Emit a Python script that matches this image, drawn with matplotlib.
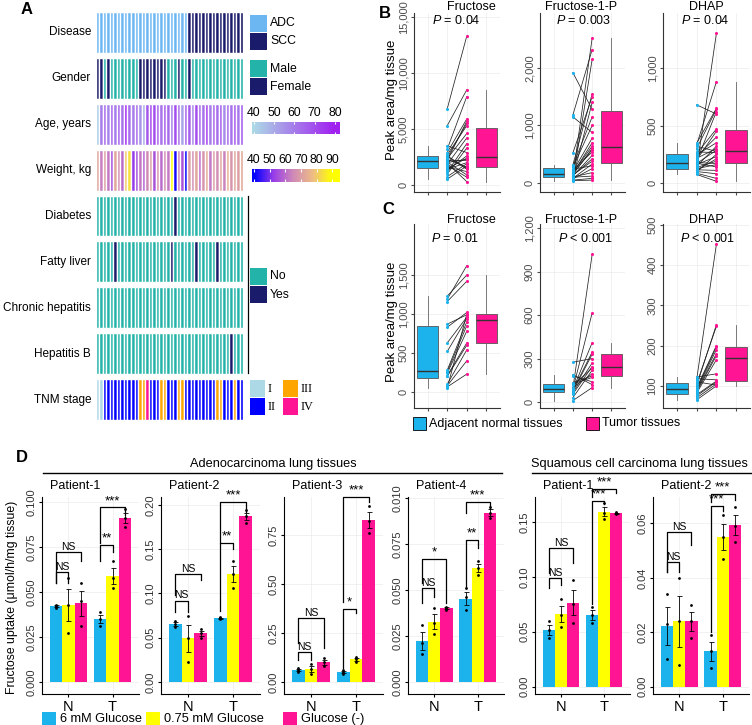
import matplotlib
matplotlib.use("Agg")
import matplotlib.pyplot as plt
import numpy as np
from matplotlib.colors import LinearSegmentedColormap, Normalize
from matplotlib.patches import Rectangle
from matplotlib.lines import Line2D
from matplotlib.ticker import FuncFormatter

plt.rcParams['font.family'] = ['Liberation Sans', 'DejaVu Sans']
plt.rcParams['mathtext.fontset'] = 'custom'
plt.rcParams['mathtext.it'] = 'Liberation Sans:italic'
plt.rcParams['mathtext.rm'] = 'Liberation Sans'

# ---------------- panel A data (one column per patient) ----------------
row_names = ["Disease", "Gender", "Age, years", "Weight, kg", "Diabetes",
             "Fatty liver", "Chronic hepatitis", "Hepatitis B", "TNM stage"]
disease = [0, 0, 0, 0, 0, 0, 0, 0, 0, 0, 0, 0, 0, 0, 0, 0, 0, 0, 0, 0, 0,
           0, 0, 0, 0, 0, 1, 1, 1, 1, 1, 1, 1, 1, 1, 1, 1, 1, 1, 1, 1, 1]
gender = [1, 1, 0, 1, 0, 0, 0, 0, 0, 0, 0, 0, 1, 1, 1, 1, 1, 1, 1, 1, 0,
          0, 0, 1, 0, 0, 1, 0, 0, 0, 0, 0, 0, 0, 0, 0, 0, 0, 0, 0, 0, 0]
age = [42, 60, 65, 58, 66, 60, 67, 62, 78, 63, 60, 65, 55, 50, 68, 72, 70, 66, 62, 68, 64,
       60, 70, 63, 52, 66, 67, 58, 70, 65, 62, 74, 60, 66, 63, 68, 57, 65, 62, 69, 61, 66]
weight = [72, 63, 70, 62, 55, 72, 66, 60, 80, 84, 52, 55, 62, 58, 65, 70, 56, 68, 60, 66, 62,
          90, 42, 64, 56, 40, 70, 66, 72, 60, 68, 74, 62, 70, 66, 72, 64, 75, 68, 72, 70, 73]
diabetes = [0, 0, 0, 0, 0, 0, 0, 0, 0, 0, 0, 0, 0, 0, 0, 0, 0, 0, 0, 0, 0,
            0, 1, 0, 0, 0, 0, 0, 0, 0, 0, 0, 0, 0, 0, 0, 0, 0, 0, 0, 0, 0]
fatty_liver = [0, 0, 0, 0, 0, 1, 0, 0, 0, 0, 0, 0, 0, 0, 0, 0, 0, 0, 0, 0, 0,
               1, 0, 0, 0, 0, 0, 0, 1, 0, 0, 0, 0, 0, 1, 0, 0, 0, 0, 0, 0, 0]
chronic_hep = [0, 0, 0, 0, 0, 0, 0, 0, 0, 0, 0, 0, 0, 0, 0, 0, 0, 0, 0, 0, 0,
               0, 0, 0, 0, 0, 0, 0, 0, 0, 0, 0, 0, 0, 0, 0, 0, 0, 0, 0, 0, 0]
hepatitis_b = [0, 0, 0, 0, 0, 0, 0, 0, 0, 0, 0, 0, 0, 0, 0, 0, 0, 0, 0, 0, 0,
               0, 0, 0, 0, 0, 0, 0, 0, 0, 0, 0, 0, 0, 0, 0, 0, 0, 1, 0, 0, 0]
tnm = [1, 1, 2, 2, 2, 2, 2, 2, 2, 2, 2, 2, 3, 3, 4, 2, 2, 2, 3, 3, 2,
       2, 2, 3, 3, 2, 2, 2, 2, 2, 2, 2, 2, 2, 3, 3, 2, 2, 2, 3, 2, 2]

# ---------------- panels B / C data (paired normal vs tumor) ----------------
met_names = ["Fructose", "Fructose-1-P", "DHAP"]
b_normal = [
    [6800, 2200, 1450, 5300, 2600, 1850, 980, 3200, 2050, 1300, 2450, 1600, 2900,
     520, 2150, 1950, 2350, 3500, 750, 2700, 1750, 2000, 1150, 2300, 1400, 2550],
    [1920, 1180, 110, 1150, 520, 60, 240, 90, 145, 40, 310, 130, 70,
     200, 105, 290, 50, 165, 80, 270, 120, 220, 100, 180, 140, 155],
    [680, 330, 120, 255, 95, 345, 145, 200, 75, 170, 300, 110, 230,
     85, 190, 320, 125, 245, 100, 215, 135, 270, 115, 160, 178, 172],
]
b_tumor = [
    [13300, 5700, 2400, 8500, 1500, 4200, 3300, 7900, 900, 2600, 5500, 1200, 5900,
     1700, 2200, 300, 4600, 2900, 1900, 5300, 700, 2300, 3700, 1600, 2000, 1400],
    [1280, 2320, 2520, 880, 1500, 2150, 300, 1400, 600, 50, 1550, 420, 250,
     780, 180, 1150, 80, 700, 330, 1000, 480, 540, 120, 640, 380, 580],
    [600, 880, 1300, 470, 250, 650, 320, 450, 15, 285, 640, 210, 400,
     40, 620, 275, 160, 350, 80, 300, 190, 265, 110, 230, 170, 140],
]
b_pvals = ["$P$ = 0.04", "$P$ = 0.003", "$P$ = 0.04"]

c_normal = [
    [1230, 1190, 1160, 870, 830, 630, 520, 280, 260, 240, 210, 200, 100, 80, 65, 50],
    [275, 190, 180, 135, 125, 115, 100, 92, 88, 85, 80, 72, 65, 55, 30, 10],
    [122, 118, 115, 110, 105, 100, 95, 92, 90, 88, 85, 82, 78, 75, 70, 65],
]
c_tumor = [
    [1500, 1620, 1420, 990, 1020, 960, 940, 900, 850, 780, 630, 600, 540, 400, 230, 1000],
    [300, 120, 140, 180, 170, 235, 195, 1020, 615, 410, 345, 330, 270, 245, 220, 100],
    [130, 115, 452, 102, 248, 252, 200, 197, 190, 180, 175, 165, 112, 110, 105, 100],
]
c_pvals = ["$P$ = 0.01", "$P$ < 0.001", "$P$ < 0.001"]

# ---------------- panel D data: replicate uptake values ----------------
# per patient: [N group, T group], each [6 mM, 0.75 mM, glucose(-)] x 3 replicates
d_titles = ["Patient-1", "Patient-2", "Patient-3", "Patient-4", "Patient-1", "Patient-2"]
d_points = [
    [[[0.041, 0.042, 0.043], [0.027, 0.043, 0.058], [0.031, 0.045, 0.055]],
     [[0.031, 0.035, 0.039], [0.052, 0.058, 0.067], [0.086, 0.091, 0.096]]],
    [[[0.062, 0.066, 0.069], [0.023, 0.050, 0.075], [0.050, 0.055, 0.060]],
     [[0.071, 0.072, 0.073], [0.106, 0.122, 0.137], [0.180, 0.187, 0.194]]],
    [[[0.050, 0.060, 0.070], [0.040, 0.065, 0.090], [0.080, 0.100, 0.125]],
     [[0.040, 0.050, 0.060], [0.100, 0.115, 0.130], [0.760, 0.820, 0.900]]],
    [[[0.015, 0.021, 0.031], [0.026, 0.032, 0.040], [0.039, 0.040, 0.041]],
     [[0.039, 0.046, 0.051], [0.058, 0.062, 0.066], [0.089, 0.092, 0.095]]],
    [[[0.044, 0.052, 0.060], [0.054, 0.065, 0.080], [0.058, 0.075, 0.097]],
     [[0.058, 0.065, 0.073], [0.153, 0.158, 0.167], [0.157, 0.158, 0.159]]],
    [[[0.010, 0.023, 0.034], [0.008, 0.024, 0.040], [0.018, 0.024, 0.030]],
     [[0.007, 0.013, 0.019], [0.047, 0.055, 0.063], [0.053, 0.059, 0.066]]],
]
# significance brackets: (group, bar a, bar b, top, leg a end, leg b end, label)
d_brackets = [
    [(0, 0, 1, 0.061, 0.055, 0.055, "NS"), (0, 0, 2, 0.072, 0.055, 0.067, "NS"),
     (1, 0, 1, 0.076, 0.067, 0.072, "**"), (1, 0, 2, 0.097, 0.077, 0.093, "***")],
    [(0, 0, 1, 0.092, 0.079, 0.079, "NS"), (0, 0, 2, 0.122, 0.098, 0.115, "NS"),
     (1, 0, 1, 0.157, 0.080, 0.150, "**"), (1, 0, 2, 0.203, 0.157, 0.192, "***")],
    [(0, 0, 1, 0.153, 0.110, 0.110, "NS"), (0, 0, 2, 0.327, 0.200, 0.175, "NS"),
     (1, 0, 1, 0.372, 0.070, 0.350, "*"), (1, 0, 2, 0.944, 0.410, 0.920, "***")],
    [(0, 0, 1, 0.051, 0.043, 0.046, "NS"), (0, 0, 2, 0.067, 0.054, 0.043, "*"),
     (1, 0, 1, 0.077, 0.051, 0.073, "**"), (1, 0, 2, 0.098, 0.092, 0.094, "***")],
    [(0, 0, 1, 0.099, 0.090, 0.093, "NS"), (0, 0, 2, 0.126, 0.104, 0.113, "NS"),
     (1, 0, 1, 0.169, 0.075, 0.166, "***"), (1, 0, 2, 0.180, 0.173, 0.176, "***")],
    [(0, 0, 1, 0.0458, 0.042, 0.042, "NS"), (0, 0, 2, 0.0568, 0.042, 0.052, "NS"),
     (1, 0, 1, 0.0664, 0.020, 0.0645, "***"), (1, 0, 2, 0.0707, 0.0678, 0.0686, "***")],
]
d_yticks = [
    [0, 0.025, 0.05, 0.075, 0.1], [0, 0.05, 0.1, 0.15, 0.2], [0, 0.25, 0.5, 0.75],
    [0, 0.025, 0.05, 0.075, 0.1], [0, 0.05, 0.1, 0.15], [0, 0.02, 0.04, 0.06],
]
d_yticklabels = [
    ["0.000", "0.025", "0.050", "0.075", "0.100"], ["0.00", "0.05", "0.10", "0.15", "0.20"],
    ["0.00", "0.25", "0.50", "0.75"], ["0.000", "0.025", "0.050", "0.075", "0.010"],
    ["0.00", "0.05", "0.10", "0.15"], ["0.00", "0.02", "0.04", "0.06"],
]
group_labels = ["N", "T"]
cond_labels = ["6 mM Glucose", "0.75 mM Glucose", "Glucose (-)"]

# ---------------- colours ----------------
ADC, SCC = "#6cb6f2", "#1b1b6b"
TEAL, NAVY = "#24b3a8", "#1b1b6b"
TNM_COLORS = {1: "#add8e6", 2: "#0000ff", 3: "#ffa500", 4: "#ff1493"}
BLUE, YELLOW, PINK = "#1cb3ec", "#ffff00", "#ff1493"
age_cmap = LinearSegmentedColormap.from_list("age", ["#add8e6", "#a020f0"])
weight_cmap = LinearSegmentedColormap.from_list(
    "wt", ["#0000ff", "#9a3ee8", "#d08ab8", "#eebc86", "#ffff00"])
age_norm = Normalize(40, 80, clip=True)
weight_norm = Normalize(40, 90, clip=True)

W, H = 752, 725
fig = plt.figure(figsize=(W / 100, H / 100), dpi=100)


def px_axes(left, top, right, bottom):
    # axes placed by pixel edges of the canvas
    return fig.add_axes([left / W, 1 - bottom / H, (right - left) / W, (bottom - top) / H])


def px_text(x, y, s, **kw):
    fig.text(x / W, 1 - y / H, s, **kw)


def px_box(x, y, w, h, color, edge="none", lw=0.0):
    fig.add_artist(Rectangle((x / W, 1 - (y + h) / H), w / W, h / H, transform=fig.transFigure,
                             facecolor=color, edgecolor=edge, linewidth=lw))


def px_line(x0, y0, x1, y1, lw=1.0):
    fig.add_artist(Line2D([x0 / W, x1 / W], [1 - y0 / H, 1 - y1 / H],
                          transform=fig.transFigure, color="black", lw=lw))


# ================= A: clinical heatmap =================
ax = px_axes(96, 12, 243, 420)
n = len(disease)
xs = np.arange(n)
yes_no = lambda v: [TEAL if k == 0 else NAVY for k in v]
row_colors = [
    [ADC if d == 0 else SCC for d in disease],
    [TEAL if g == 0 else NAVY for g in gender],
    age_cmap(age_norm(age)),
    weight_cmap(weight_norm(weight)),
    yes_no(diabetes), yes_no(fatty_liver), yes_no(chronic_hep), yes_no(hepatitis_b),
    [TNM_COLORS[s] for s in tnm],
]
for i, cols in enumerate(row_colors):
    ax.bar(xs, 0.89, bottom=i, width=1, color=cols, edgecolor="white", linewidth=1.0)
    ax.text(-1.9, i + 0.445, row_names[i], ha="right", va="center", fontsize=8.5, clip_on=False)
ax.set_xlim(-0.5, n - 0.5)
ax.set_ylim(8.89, 0)
ax.axis("off")

# legends of A
for y, c, lab in [(15, ADC, "ADC"), (33, SCC, "SCC"), (60, TEAL, "Male"), (78, NAVY, "Female"),
                  (268, TEAL, "No"), (286, NAVY, "Yes")]:
    px_box(250, y, 17, 17, c)
    px_text(270, y + 8.5, lab, va="center", fontsize=8.8)
px_line(248, 196, 248, 373, lw=0.9)
for x, y, s in [(250, 380, 1), (250, 398, 2), (283, 380, 3), (283, 398, 4)]:
    px_box(x, y, 15, 17, TNM_COLORS[s])
    px_text(x + 18, y + 8.5, ["I", "II", "III", "IV"][s - 1], va="center", fontsize=8.8,
            family="Liberation Serif")


def colorbar_px(box, cmap, norm, lo, hi, ticks):
    cax = px_axes(*box)
    grad = np.linspace(lo, hi, 256)
    cax.imshow(cmap(norm(grad))[None, :, :], extent=[lo, hi, 0, 1], aspect="auto")
    cax.vlines(ticks, 0, 0.2, color="white", lw=0.8)
    cax.vlines(ticks, 0.8, 1, color="white", lw=0.8)
    cax.set_xlim(lo, hi)
    cax.set_ylim(0, 1)
    cax.set_yticks([])
    cax.set_xticks(ticks)
    cax.xaxis.tick_top()
    cax.tick_params(axis="x", length=0, pad=2.5, labelsize=8.8)
    for sp in cax.spines.values():
        sp.set_visible(False)


colorbar_px((252, 122, 340, 134), age_cmap, age_norm, 39.1, 82.5, [40, 50, 60, 70, 80])
colorbar_px((252, 169, 340, 182), weight_cmap, weight_norm, 38.7, 95, [40, 50, 60, 70, 80, 90])

# ================= B / C: paired metabolite plots =================
comma = FuncFormatter(lambda v, p: f"{int(round(v)):,}")


def paired_panel(box, normal, tumor, ylim, yticks):
    ax = px_axes(*box)
    common = dict(widths=1.1, patch_artist=True, showfliers=False, showcaps=False,
                  whiskerprops=dict(color="#666666", lw=0.6),
                  medianprops=dict(color="#333333", lw=1.0))
    b1 = ax.boxplot([normal], positions=[1], **common)
    b2 = ax.boxplot([tumor], positions=[4], **common)
    for b, c in [(b1, BLUE), (b2, PINK)]:
        for patch in b["boxes"]:
            patch.set(facecolor=c, edgecolor="#555555", linewidth=0.6)
    for a, t in zip(normal, tumor):
        ax.plot([2, 3], [a, t], color="#222222", lw=0.55, zorder=2)
    ax.scatter(np.full(len(normal), 2), normal, s=5, color=BLUE, zorder=3, linewidths=0)
    ax.scatter(np.full(len(tumor), 3), tumor, s=5, color=PINK, zorder=3, linewidths=0)
    ax.set_xlim(0.3, 4.7)
    ax.set_ylim(*ylim)
    ax.set_xticks([1, 2, 3, 4])
    ax.set_xticklabels([])
    ax.set_yticks(yticks)
    ax.yaxis.set_major_formatter(comma)
    ax.tick_params(axis="y", labelsize=8, labelcolor="#4d4d4d", length=2.5, pad=1.5,
                   color="#4d4d4d", labelrotation=90)
    ax.tick_params(axis="x", length=2.5, color="#4d4d4d")
    for lab in ax.get_yticklabels():
        lab.set_va("center")
    ax.grid(color="#ebebeb", lw=0.5)
    ax.set_axisbelow(True)
    for sp in ["top", "right"]:
        ax.spines[sp].set_visible(False)
    for sp in ["left", "bottom"]:
        ax.spines[sp].set_color("#333333")
        ax.spines[sp].set_linewidth(0.8)
    return ax


x_boxes = [(414, 500), (540, 625), (663, 750)]
b_ylims = [(-625, 15357), (-157, 2957), (-78, 1478)]
b_yticks = [[0, 5000, 10000, 15000], [0, 1000, 2000], [0, 500, 1000]]
c_ylims = [(-205, 2154), (-41, 1229), (45, 502.5)]
c_yticks = [[0, 500, 1000, 1500], [0, 300, 600, 900, 1200], [100, 200, 300, 400, 500]]
title_x = [471, 581, 706]
b_p_x = [456, 584, 705]
c_p_x = [455, 586, 708]
for k in range(3):
    l, r = x_boxes[k]
    paired_panel((l, 13, r, 192), b_normal[k], b_tumor[k], b_ylims[k], b_yticks[k])
    paired_panel((l, 224, r, 408), c_normal[k], c_tumor[k], c_ylims[k], c_yticks[k])
    px_text(title_x[k], 7, met_names[k], ha="center", va="center", fontsize=9)
    px_text(b_p_x[k], 21, b_pvals[k], ha="center", va="center", fontsize=9)
    px_text(title_x[k], 220, met_names[k], ha="center", va="center", fontsize=9)
    px_text(c_p_x[k], 238, c_pvals[k], ha="center", va="center", fontsize=9)
px_text(392, 100, "Peak area/mg tissue", rotation=90, ha="center", va="center", fontsize=9.5)
px_text(392, 322, "Peak area/mg tissue", rotation=90, ha="center", va="center", fontsize=9.5)
px_box(413, 417, 13, 13, BLUE, edge="black", lw=0.6)
px_text(429, 423.5, "Adjacent normal tissues", va="center", fontsize=9)
px_box(586, 417, 13, 13, PINK, edge="black", lw=0.6)
px_text(602, 423.5, "Tumor tissues", va="center", fontsize=9)

# ================= D: fructose uptake bars =================
cond_colors = [BLUE, YELLOW, PINK]
bw = 0.28


def bar_panel(ax, pts, brackets, ylim, yticks, yticklabels):
    for g in range(2):
        for c in range(3):
            vals = np.array(pts[g][c])
            m = vals.mean()
            se = vals.std(ddof=1) / np.sqrt(len(vals))
            x = g + 1 + (c - 1) * bw
            ax.bar(x, m, width=bw, color=cond_colors[c], zorder=2)
            ax.errorbar(x, m, yerr=se, color="black", capsize=1.8, lw=0.6, capthick=0.6, zorder=3)
            ax.scatter(np.full(len(vals), x), vals, s=4, color="black", zorder=4, linewidths=0)
    for g, a, b, top, ya, yb, lab in brackets:
        xa = g + 1 + (a - 1) * bw
        xb = g + 1 + (b - 1) * bw
        ax.plot([xa, xa, xb, xb], [ya, top, top, yb], color="black", lw=0.9, clip_on=False, zorder=5)
        ax.annotate(lab, ((xa + xb) / 2, top), xytext=(0, 0.3), textcoords="offset points",
                    ha="center", va="bottom", fontsize=7.5 if lab == "NS" else 9.5,
                    annotation_clip=False)
    ax.set_xlim(0.4, 2.6)
    ax.set_ylim(*ylim)
    ax.set_xticks([1, 2])
    ax.set_xticklabels(group_labels, fontsize=10.5)
    ax.set_yticks(yticks)
    ax.set_yticklabels(yticklabels, rotation=90, va="center")
    ax.tick_params(axis="y", labelsize=8, labelcolor="#333333", length=2.5, pad=1.5)
    ax.tick_params(axis="x", length=2.5, pad=1.5)
    ax.grid(color="#ebebeb", lw=0.5)
    ax.set_axisbelow(True)
    for sp in ["top", "right"]:
        ax.spines[sp].set_visible(False)
    for sp in ["left", "bottom"]:
        ax.spines[sp].set_linewidth(0.8)


d_boxes = [(42, 139), (161, 260), (284, 383), (408, 504), (535, 630), (653, 749)]
d_ylims = [(-0.00667, 0.1028), (-0.01356, 0.209), (-0.0612, 0.944),
           (-0.00649, 0.1005), (-0.00665, 0.1728), (-0.00268, 0.0697)]
for k in range(6):
    l, r = d_boxes[k]
    axd = px_axes(l, 497, r, 694)
    bar_panel(axd, d_points[k], d_brackets[k], d_ylims[k], d_yticks[k], d_yticklabels[k])
    px_text(l + 8, 486, d_titles[k], va="center", fontsize=9)

px_line(43, 473, 502, 473)
px_text(273, 464, "Adenocarcinoma lung tissues", ha="center", va="center", fontsize=9.2)
px_line(532, 473, 752, 473)
px_text(639, 464, "Squamous cell carcinoma lung tissues", ha="center", va="center", fontsize=9.2)
px_text(12, 597, "Fructose uptake (μmol/h/mg tissue)", rotation=90, ha="center", va="center",
        fontsize=8.8)
for x, c, lab in [(42, BLUE, cond_labels[0]), (146, YELLOW, cond_labels[1]), (283, PINK, cond_labels[2])]:
    px_box(x, 712, 14, 13, c)
    px_text(x + 18, 719, lab, va="center", fontsize=9.2)

# panel letters
for x, y, s in [(27, 9, "A"), (385, 14, "B"), (388, 210, "C"), (22, 457, "D")]:
    px_text(x, y, s, ha="center", va="center", fontsize=12, fontweight="bold")

fig.savefig("out.png", dpi=100)
